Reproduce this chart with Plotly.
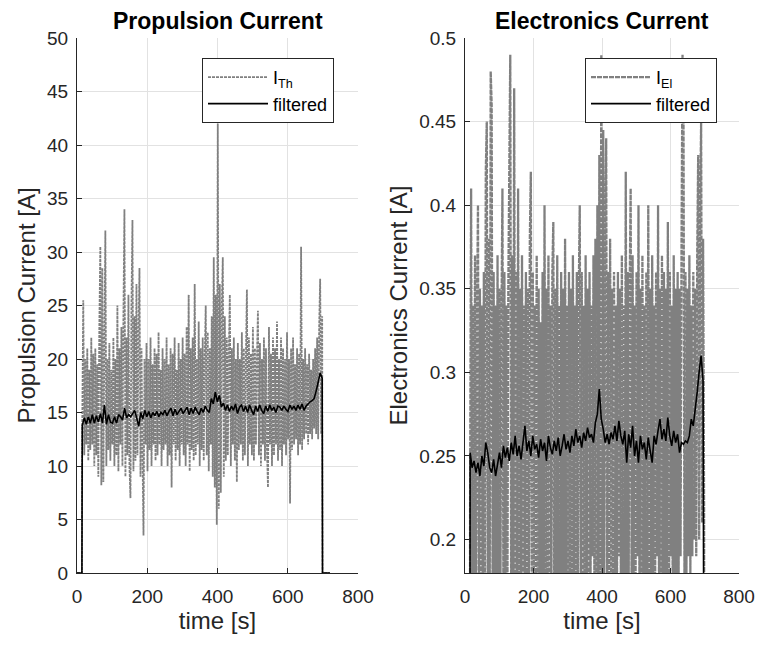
import numpy as np
import plotly.graph_objects as go

# ---------------- data ----------------
# sampling window of the recorded signals [s]
prop_t_start, prop_t_end = 15, 698
elec_t_start, elec_t_end = 15, 698
filt_p_t_start, filt_p_t_end = 15, 698
filt_e_t_start, filt_e_t_end = 15, 695

# current is zero before start-up and after shut-down
off_before_t = [0, 14]
off_before_v = [0, 0]
off_after_t = [699, 720]
off_after_v = [0, 0]

# raw propulsion current I_Th [A]
prop_raw = [
    14, 25.5, 11, 20, 12, 21, 10.5, 19, 11.5, 22, 12, 20.5, 10, 21, 11, 19.5, 9, 23, 30.5, 8.2,
    28.5, 8.5, 21, 32, 10, 20, 11.5, 21.5, 10.5, 19, 12, 22, 10, 20, 11, 25, 9.5, 21, 12, 23,
    10, 24, 34, 9, 22, 11, 26, 10, 7, 25, 33, 9.5, 24, 10.5, 27, 11, 22, 28.5, 9, 21,
    11, 3.5, 20, 12, 21.5, 9.5, 20, 11.5, 22, 10, 19.5, 12, 21, 10.5, 20.5, 11, 22.5, 12, 19, 10,
    21, 11.5, 20, 12, 22, 10, 19.5, 11, 21, 8, 20.5, 12, 22, 10.5, 19, 11.5, 21.5, 10, 20, 12,
    22, 11, 20.5, 10, 23, 12, 26, 9.5, 21, 11.5, 22, 10.5, 27, 11, 20, 12, 23.5, 10, 21, 11.5,
    22, 10.5, 20, 25, 11, 22.5, 9.5, 21, 12, 24, 9, 29.5, 8, 26, 4.5, 42, 6, 27, 7.5, 25,
    29.5, 9, 24, 10.5, 22, 11, 20.5, 26, 10, 21, 12, 22, 10.5, 20, 8.5, 21.5, 11.5, 20, 12, 22.5,
    10.5, 21, 11, 20, 26.5, 10, 22, 12, 20.5, 11, 23, 10.5, 21, 12, 20, 24.5, 11, 21.5, 10, 20,
    12, 22, 10.5, 21, 11.5, 8, 23, 12, 20.5, 10, 22, 11, 21, 12, 23.5, 10.5, 20, 11.5, 22, 10,
    21, 12, 20, 11, 22.5, 12.5, 20, 6.5, 21, 11.5, 22, 12, 19.5, 12.5, 21, 11, 20.5, 12, 30.5, 11.5,
    20, 12.5, 21, 13, 19.5, 12, 20.5, 13, 19, 12.5, 20, 13.5, 21, 13, 22, 12.5, 23, 27.5, 13, 24,
]

# filtered propulsion current [A]
prop_filt = [
    13.8, 14.5, 13.9, 14.6, 14.0, 14.8, 14.0, 14.7, 14.1,
    14.9, 14.0, 15.7, 13.9, 14.8, 14.1, 14.0, 14.6, 14.0,
    14.8, 14.6, 14.3, 15.4, 14.5, 14.8, 14.6, 14.9, 15.2,
    14.5, 13.7, 15.0, 14.4, 15.2, 14.6, 15.1, 14.5, 15.0,
    14.7, 15.1, 14.6, 15.0, 14.8, 15.2, 14.7, 15.1, 15.4,
    14.7, 15.3, 14.8, 15.1, 15.4, 14.9, 15.2, 15.5, 14.8,
    15.4, 14.9, 15.5, 15.1, 14.8, 15.4, 15.0, 15.6, 15.2,
    15.0, 16.3, 15.8, 16.9, 16.0, 16.6, 15.5, 15.9, 15.2,
    15.7, 15.1, 15.6, 15.2, 15.8, 14.9, 15.5, 15.7, 15.1,
    15.6, 15.0, 15.7, 15.2, 14.8, 15.6, 15.1, 15.7, 15.2,
    14.9, 15.6, 15.1, 15.7, 15.2, 15.5, 15.0, 15.6, 15.5,
    15.2, 15.6, 15.3, 15.1, 15.7, 15.3, 15.6, 15.2, 15.7,
    15.3, 15.8, 15.2, 15.6, 15.8, 16.0, 16.1, 16.3, 17.0,
    17.8, 18.7, 18.2,
]

# raw electronics current I_El [A]
elec_raw = [
    0.24, 0.41, 0.16, 0.34, 0.17, 0.37, 0.15, 0.33, 0.40, 0.16, 0.35, 0.17, 0.34, 0.15, 0.36, 0.18, 0.42, 0.45, 0.14, 0.38,
    0.16, 0.48, 0.46, 0.15, 0.36, 0.17, 0.34, 0.16, 0.37, 0.15, 0.35, 0.18, 0.33, 0.41, 0.16, 0.36, 0.17, 0.34, 0.15, 0.35,
    0.42, 0.49, 0.14, 0.37, 0.16, 0.47, 0.15, 0.36, 0.17, 0.41, 0.16, 0.35, 0.18, 0.37, 0.15, 0.34, 0.17, 0.36, 0.16, 0.35,
    0.17, 0.38, 0.42, 0.15, 0.36, 0.17, 0.34, 0.16, 0.37, 0.18, 0.35, 0.16, 0.33, 0.17, 0.36, 0.15, 0.40, 0.17, 0.35, 0.16,
    0.37, 0.18, 0.34, 0.16, 0.36, 0.39, 0.15, 0.35, 0.17, 0.37, 0.16, 0.34, 0.18, 0.36, 0.17, 0.35, 0.16, 0.38, 0.17, 0.34,
    0.18, 0.36, 0.16, 0.35, 0.17, 0.37, 0.18, 0.34, 0.16, 0.36, 0.17, 0.35, 0.40, 0.16, 0.36, 0.18, 0.34, 0.17, 0.37, 0.16,
    0.35, 0.18, 0.36, 0.17, 0.34, 0.19, 0.37, 0.16, 0.38, 0.18, 0.40, 0.17, 0.43, 0.16, 0.49, 0.18, 0.445, 0.17, 0.39, 0.44,
    0.17, 0.36, 0.16, 0.38, 0.18, 0.35, 0.17, 0.36, 0.18, 0.34, 0.16, 0.36, 0.19, 0.35, 0.17, 0.37, 0.18, 0.34, 0.16, 0.42,
    0.17, 0.36, 0.18, 0.35, 0.41, 0.16, 0.37, 0.18, 0.34, 0.17, 0.36, 0.19, 0.40, 0.16, 0.35, 0.18, 0.37, 0.17, 0.34, 0.16,
    0.36, 0.18, 0.40, 0.17, 0.35, 0.16, 0.37, 0.18, 0.34, 0.17, 0.36, 0.19, 0.40, 0.16, 0.35, 0.18, 0.37, 0.17, 0.36, 0.16,
    0.35, 0.18, 0.39, 0.17, 0.36, 0.19, 0.34, 0.16, 0.37, 0.18, 0.35, 0.17, 0.36, 0.18, 0.35, 0.19, 0.38, 0.49, 0.45, 0.17,
    0.36, 0.18, 0.35, 0.19, 0.37, 0.18, 0.34, 0.19, 0.36, 0.20, 0.35, 0.19, 0.37, 0.43, 0.20, 0.40, 0.45, 0.21, 0.38, 0.22,
]

# filtered electronics current [A]
elec_filt = [
    0.252, 0.243, 0.247, 0.240, 0.246, 0.238, 0.250, 0.244, 0.258,
    0.252, 0.243, 0.240, 0.248, 0.238, 0.245, 0.252, 0.243, 0.256,
    0.249, 0.255, 0.247, 0.258, 0.251, 0.262, 0.250, 0.256, 0.248,
    0.258, 0.268, 0.253, 0.259, 0.250, 0.262, 0.254, 0.257, 0.249,
    0.260, 0.253, 0.258, 0.247, 0.262, 0.255, 0.251, 0.259, 0.253,
    0.261, 0.250, 0.256, 0.263, 0.254, 0.259, 0.252, 0.262, 0.256,
    0.266, 0.258, 0.262, 0.255, 0.264, 0.259, 0.267, 0.261, 0.263,
    0.258, 0.270, 0.275, 0.290, 0.272, 0.266, 0.258, 0.263, 0.257,
    0.264, 0.260, 0.268, 0.259, 0.271, 0.262, 0.257, 0.265, 0.246,
    0.263, 0.255, 0.268, 0.250, 0.259, 0.246, 0.262, 0.254, 0.258,
    0.248, 0.261, 0.253, 0.246, 0.262, 0.257, 0.265, 0.272, 0.260,
    0.266, 0.259, 0.273, 0.262, 0.256, 0.265, 0.258, 0.263, 0.252,
    0.258, 0.257, 0.259, 0.258, 0.262, 0.272, 0.268, 0.278, 0.288,
    0.300, 0.310, 0.295,
]

# axis ticks
x_ticks = [0, 200, 400, 600, 800]
x_ticklabels = ["0", "200", "400", "600", "800"]
prop_y_ticks = [0, 5, 10, 15, 20, 25, 30, 35, 40, 45, 50]
prop_y_ticklabels = ["0", "5", "10", "15", "20", "25", "30", "35", "40", "45", "50"]
elec_y_ticks = [0.2, 0.25, 0.3, 0.35, 0.4, 0.45, 0.5]
elec_y_ticklabels = ["0.2", "0.25", "0.3", "0.35", "0.4", "0.45", "0.5"]


def series(t0, t1, values):
    t = np.linspace(t0, t1, len(values))
    x = list(off_before_t) + list(t) + list(off_after_t)
    y = list(off_before_v) + list(values) + list(off_after_v)
    return x, y


FONT = "Liberation Sans, Arial, Helvetica, sans-serif"
AX = "#262626"
GRID = "#e2e2e2"
RAW = "#808080"

fig = go.Figure()

x, y = series(prop_t_start, prop_t_end, prop_raw)
fig.add_trace(go.Scatter(x=x, y=y, mode="lines", name="I<sub>Th</sub>",
                         line=dict(color=RAW, width=1.8, dash="3px,1px", simplify=False),
                         xaxis="x", yaxis="y", legend="legend"))
x, y = series(filt_p_t_start, filt_p_t_end, prop_filt)
fig.add_trace(go.Scatter(x=x, y=y, mode="lines", name="filtered",
                         line=dict(color="black", width=1.6, simplify=False),
                         xaxis="x", yaxis="y", legend="legend"))

x, y = series(elec_t_start, elec_t_end, elec_raw)
fig.add_trace(go.Scatter(x=x, y=y, mode="lines", name="I<sub>El</sub>",
                         line=dict(color=RAW, width=2.3, dash="5px,1px", simplify=False),
                         xaxis="x2", yaxis="y2", legend="legend2"))
x, y = series(filt_e_t_start, filt_e_t_end, elec_filt)
fig.add_trace(go.Scatter(x=x, y=y, mode="lines", name="filtered",
                         line=dict(color="black", width=1.6, simplify=False),
                         xaxis="x2", yaxis="y2", legend="legend2"))

# the page body adds an 8 px offset; the figure is sized so that it stays
# inside the visible part of the 764x645 window
OFF = 8
W, H = 764 - 2 * OFF, 645 - 2 * OFF


def px_x(p):
    return (p - OFF) / W


def px_y(p):
    return 1 - (p - OFF) / H


L1, R1 = px_x(77), px_x(358)
L2, R2 = px_x(465), px_x(739)
B, T = px_y(573), px_y(38)

common_x = dict(range=[0, 800], tickvals=x_ticks, ticktext=x_ticklabels,
                showgrid=True, gridcolor=GRID, gridwidth=1, zeroline=False,
                showline=True, linecolor=AX, linewidth=1, mirror=False,
                ticks="inside", ticklen=5, tickcolor=AX, tickwidth=1,
                tickfont=dict(family=FONT, size=19, color=AX),
                ticklabelstandoff=6, automargin=False,
                title=dict(text="time [s]", font=dict(family=FONT, size=24, color=AX), standoff=6))
common_y = dict(showgrid=True, gridcolor=GRID, gridwidth=1, zeroline=False,
                showline=True, linecolor=AX, linewidth=1, mirror=False,
                ticks="inside", ticklen=5, tickcolor=AX, tickwidth=1,
                tickfont=dict(family=FONT, size=19, color=AX),
                ticklabelstandoff=4, automargin=False)

legend_common = dict(bgcolor="white", bordercolor=AX, borderwidth=1,
                     font=dict(family=FONT, size=18, color="black"),
                     xanchor="left", yanchor="top", itemwidth=60,
                     itemclick=False, itemdoubleclick=False)

fig.update_layout(
    width=W, height=H,
    margin=dict(l=0, r=0, t=0, b=0, autoexpand=False),
    paper_bgcolor="white", plot_bgcolor="white",
    font=dict(family=FONT, color=AX),
    xaxis=dict(domain=[L1, R1], anchor="y", **common_x),
    yaxis=dict(domain=[B, T], anchor="x", range=[0, 50], tickvals=prop_y_ticks,
               ticktext=prop_y_ticklabels,
               title=dict(text="Propulsion Current [A]", font=dict(family=FONT, size=24, color=AX), standoff=4),
               **common_y),
    xaxis2=dict(domain=[L2, R2], anchor="y2", **common_x),
    yaxis2=dict(domain=[B, T], anchor="x2", range=[0.18, 0.5], tickvals=elec_y_ticks,
                ticktext=elec_y_ticklabels,
                title=dict(text="Electronics Current [A]", font=dict(family=FONT, size=24, color=AX), standoff=4),
                **common_y),
    legend=dict(x=px_x(202), y=px_y(58), **legend_common),
    legend2=dict(x=px_x(585), y=px_y(58), **legend_common),
    annotations=[
        dict(text="<b>Propulsion Current</b>", x=(L1 + R1) / 2, y=px_y(21), xref="paper", yref="paper",
             showarrow=False, xanchor="center", yanchor="middle",
             font=dict(family=FONT, size=23, color="black")),
        dict(text="<b>Electronics Current</b>", x=(L2 + R2) / 2, y=px_y(21), xref="paper", yref="paper",
             showarrow=False, xanchor="center", yanchor="middle",
             font=dict(family=FONT, size=23, color="black")),
    ],
)

fig.write_html("out.html")
